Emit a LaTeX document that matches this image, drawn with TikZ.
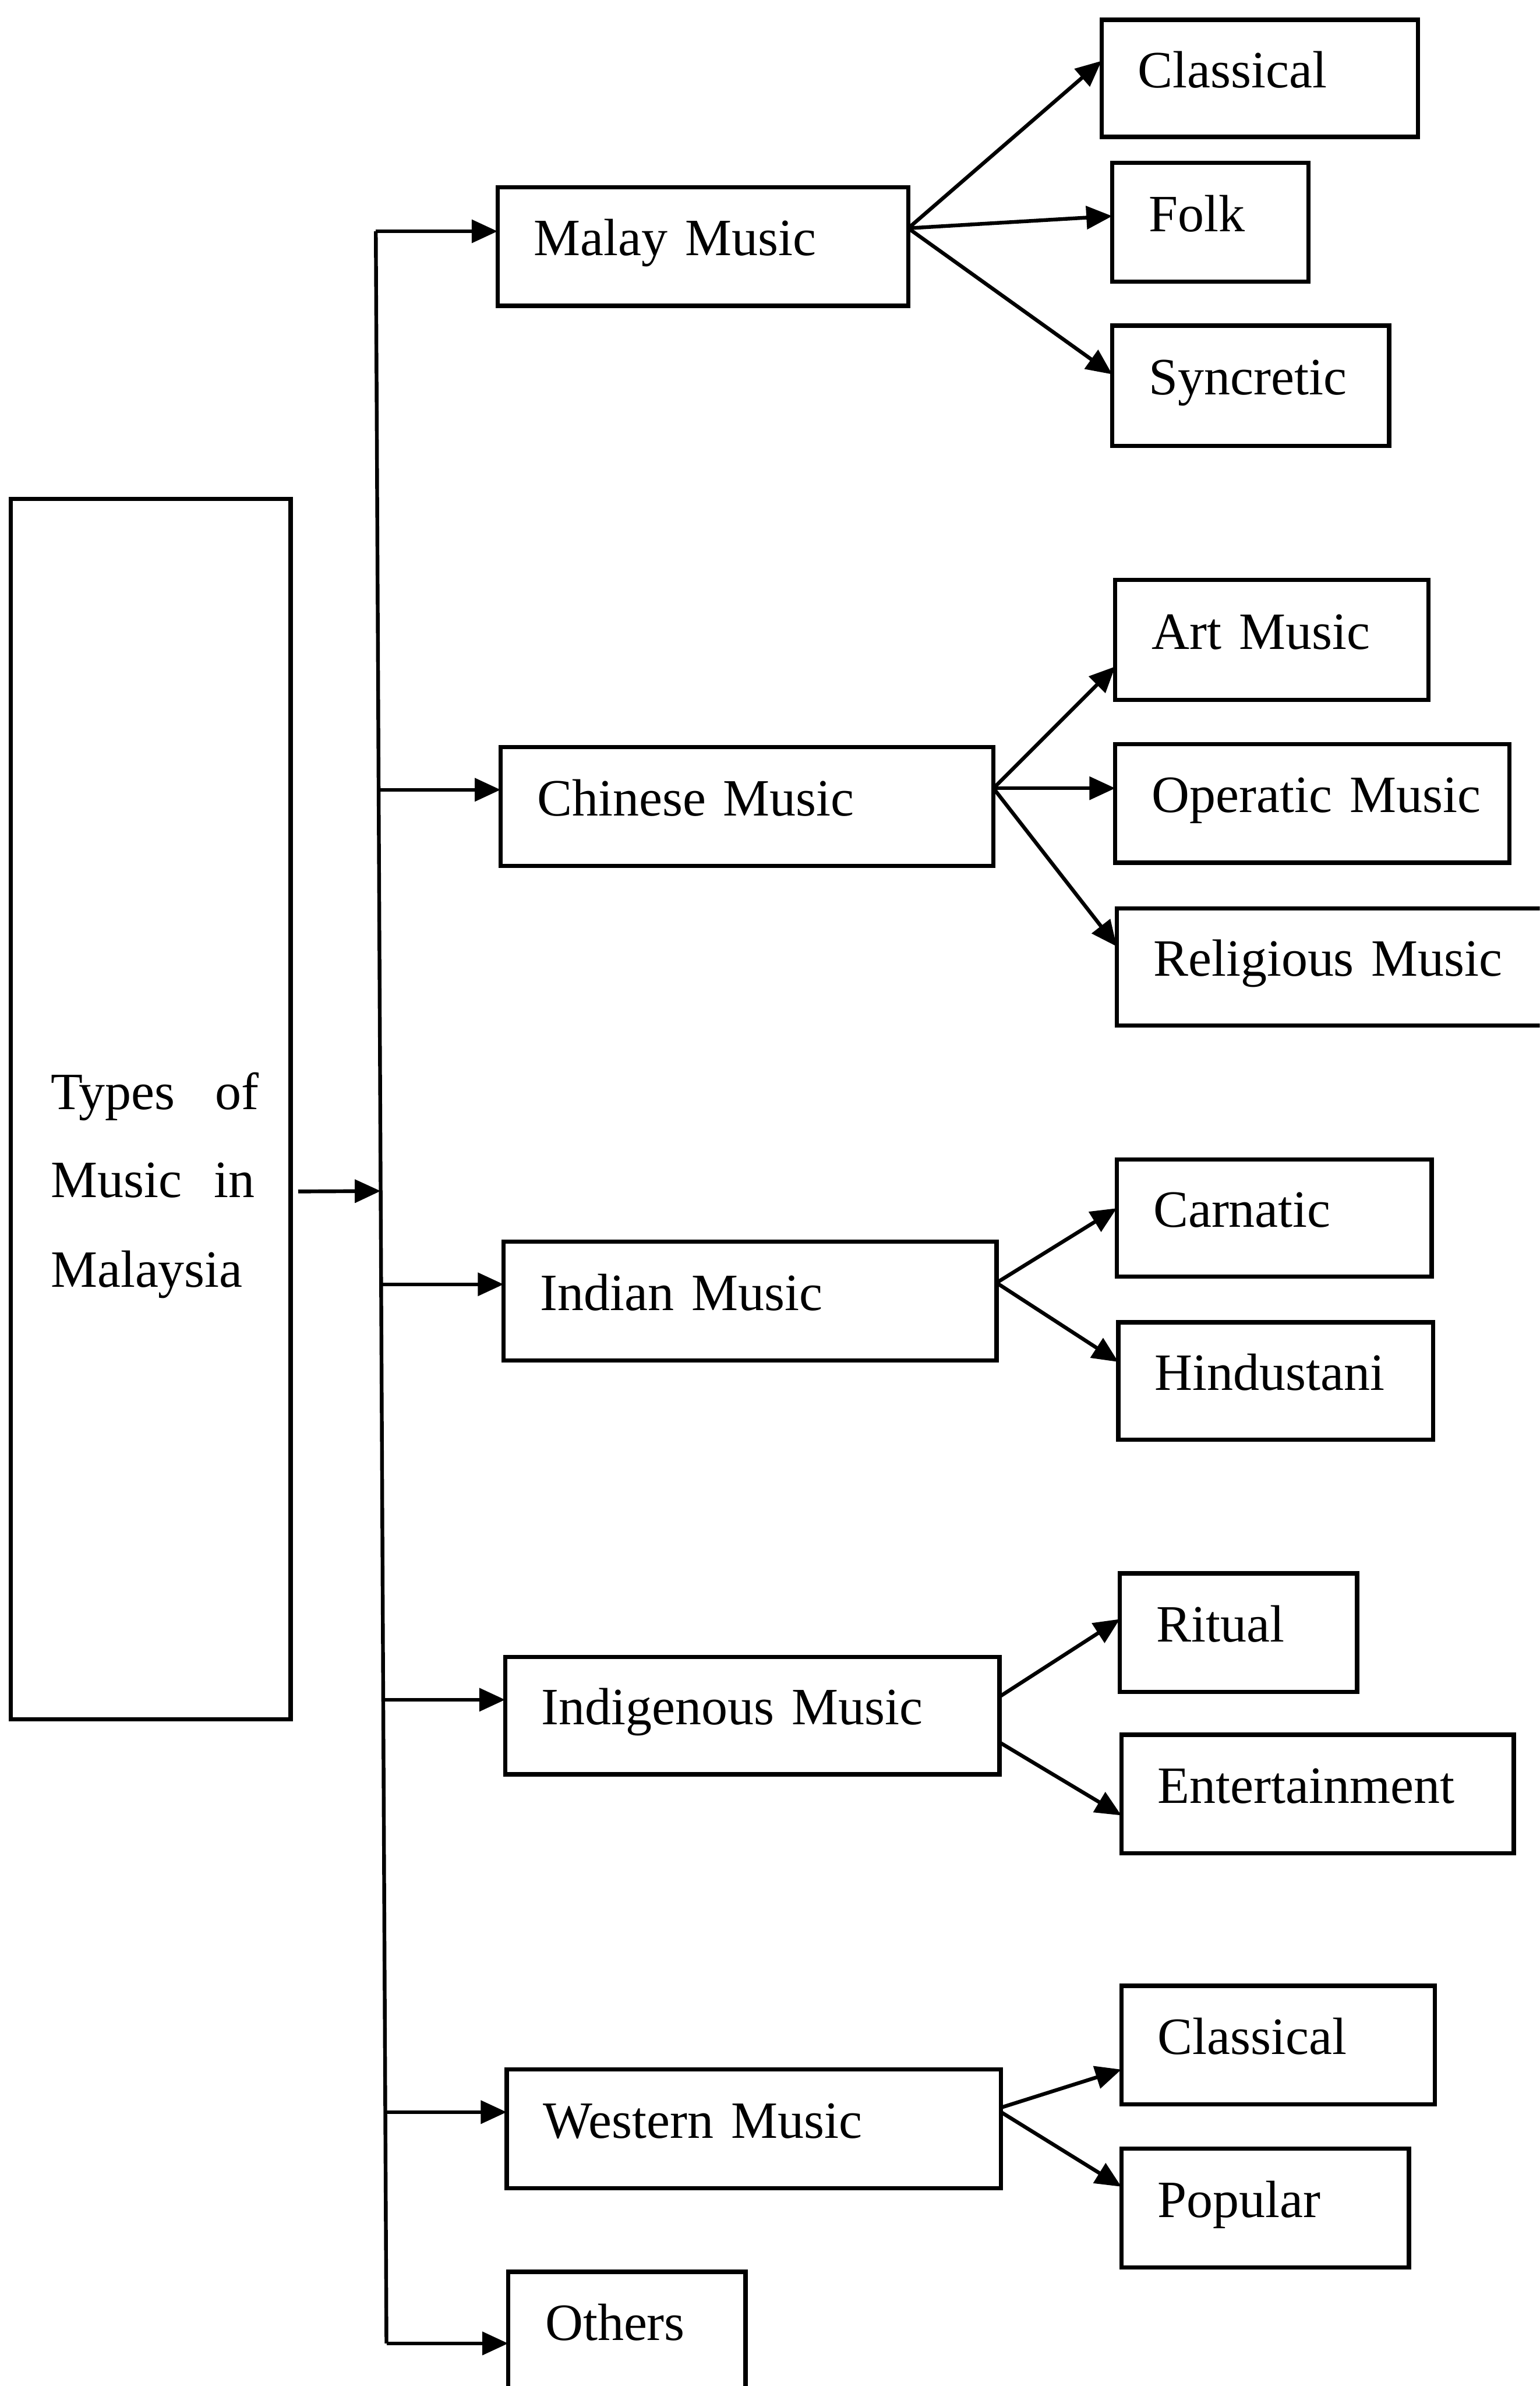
\documentclass[tikz,border=0pt]{standalone}
\usepackage{fontspec}
\setmainfont{Liberation Serif}
\usetikzlibrary{arrows.meta,calc}
\begin{document}
\begin{tikzpicture}[x=0.02cm,y=-0.02cm,
  box/.style={draw,line width=1.6pt,anchor=north west,outer sep=0pt,inner xsep=0.48cm,
    align=left,text height=0.48cm,text depth=0.24cm,minimum height=1.56cm,
    font=\fontsize{19.6pt}{23pt}\selectfont},
  conn/.style={line width=1.4pt},
  arr/.style={line width=1.4pt,-{Triangle[length=0.34cm,width=0.3cm]}},
  lbl/.style={anchor=base west,inner sep=0pt,font=\fontsize{19.6pt}{23pt}\selectfont}]
\useasboundingbox (0,0) rectangle (1012,1568);
\clip (0,0) rectangle (1012,1568);
\fill[white] (0,0) rectangle (1012,1568);

% root box
\node[draw,line width=1.6pt,anchor=north west,outer sep=0pt,minimum width=3.68cm,minimum height=16.04cm] (types) at (7,328) {};
\node[lbl] (tl1) at (33,729) {\makebox[2.74cm][l]{Types\hfill of}};
\node[lbl] (tl2) at (33,787) {\makebox[2.68cm][l]{Music\hfill in}};
\node[lbl] (tl3) at (33,846) {Malaysia};

% second level
\node[box,text width=4.44cm] (malay) at (327,123) {Malay Music};
\node[box,text width=5.52cm] (chinese) at (329,491) {Chinese Music};
\node[box,text width=5.52cm] (indian) at (331,816) {Indian Music};
\node[box,text width=5.54cm,minimum height=1.54cm] (indig) at (332,1089) {Indigenous Music};
\node[box,text width=5.54cm] (western) at (333,1360) {Western Music};
\node[box,text width=2.16cm,minimum height=2.2cm] (others) at (334,1493) {};
\node[lbl] (otherstext) at (358,1538) {Others};

% third level
\node[box,text width=3.20cm,minimum height=1.54cm] (classical) at (724,13) {Classical};
\node[box,text width=1.62cm] (folk) at (731,107) {Folk};
\node[box,text width=2.68cm,minimum height=1.58cm] (syncretic) at (731,214) {Syncretic};
\node[box,text width=3.16cm,minimum height=1.58cm] (art) at (733,381) {Art Music};
\node[box,text width=4.22cm] (operatic) at (733,489) {\mbox{Operatic Music}};
\node[box,text width=5.04cm,minimum height=1.54cm] (religious) at (734,597) {Religious Music};
\node[box,text width=3.18cm,minimum height=1.54cm] (carnatic) at (734,762) {Carnatic};
\node[box,text width=3.18cm,minimum height=1.54cm] (hindustani) at (735,869) {Hindustani};
\node[box,text width=2.16cm] (ritual) at (736,1034) {Ritual};
\node[box,text width=4.20cm] (entertain) at (737,1140) {Entertainment};
\node[box,text width=3.16cm] (classicalw) at (737,1305) {Classical};
\node[box,text width=2.82cm] (popular) at (737,1412) {Popular};

% trunk
\coordinate (tt) at (247,152);
\coordinate (tb) at (254,1540);
\coordinate (tin) at (196,783);
\draw[conn] (tt) -- (tb);
\draw[arr] (tin) -- ($(tt)!(tin)!(tb)$);
\coordinate (b2) at (248.9,519);
\coordinate (b3) at (250.5,844);
\coordinate (b4) at (251.9,1117);
\coordinate (b5) at (253.2,1388);
\draw[arr] (tt) -- (tt -| malay.west);
\draw[arr] (b2) -- (b2 -| chinese.west);
\draw[arr] (b3) -- (b3 -| indian.west);
\draw[arr] (b4) -- (b4 -| indig.west);
\draw[arr] (b5) -- (b5 -| western.west);
\draw[arr] (tb) -- (tb -| others.west);

% fans
\coordinate (ms) at ($(malay.north east)+(0,27)$);
\draw[arr] (ms) -- ($(classical.north west)+(0,27)$);
\draw[arr] (ms) -- ($(folk.north west)+(0,35)$);
\draw[arr] (ms) -- ($(syncretic.north west)+(0,32)$);

\coordinate (cs) at ($(chinese.north east)+(0,27)$);
\draw[arr] (cs) -- ($(art.north west)+(0,57)$);
\draw[arr] (cs) -- ($(operatic.north west)+(0,29)$);
\draw[arr] (cs) -- ($(religious.north west)+(0,25)$);

\coordinate (is) at ($(indian.north east)+(0,27)$);
\draw[arr] (is) -- ($(carnatic.north west)+(0,32)$);
\draw[arr] (is) -- ($(hindustani.north west)+(0,26)$);

\draw[arr] ($(indig.north east)+(0,26)$) -- ($(ritual.north west)+(0,30)$);
\draw[arr] ($(indig.north east)+(0,56)$) -- ($(entertain.north west)+(0,53)$);

\draw[arr] ($(western.north east)+(0,25)$) -- ($(classicalw.north west)+(0,55)$);
\draw[arr] ($(western.north east)+(0,28)$) -- ($(popular.north west)+(0,25)$);
\end{tikzpicture}
\end{document}
